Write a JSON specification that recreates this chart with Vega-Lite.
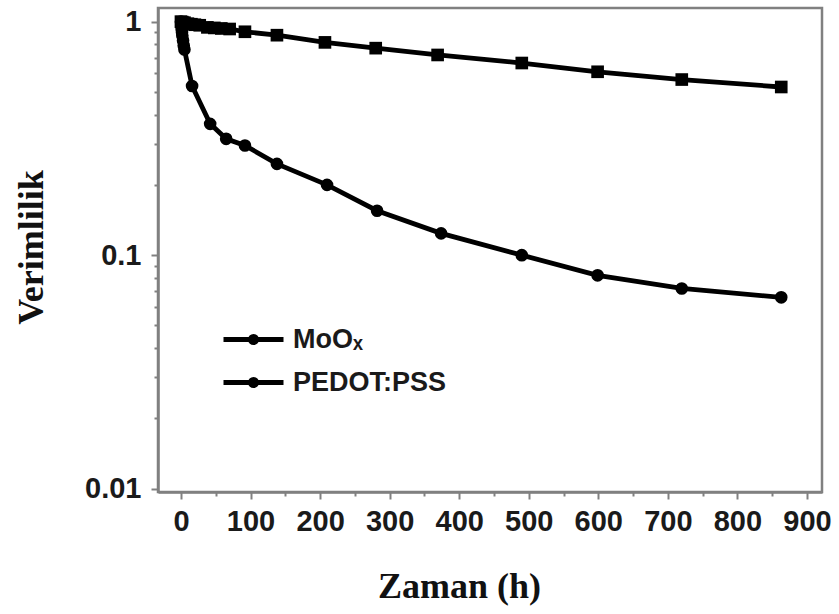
{
  "$schema": "https://vega.github.io/schema/vega-lite/v6.json",
  "width": 664,
  "height": 484,
  "autosize": "none",
  "padding": {"left": 158, "top": 8, "right": 17, "bottom": 122},
  "background": "white",
  "config": {
    "view": {"stroke": "#808080", "strokeWidth": 2.5},
    "axis": {"grid": false, "domainColor": "#808080", "domainWidth": 2.5, "tickColor": "#808080", "tickWidth": 2, "labelColor": "#1a1a1a", "titleColor": "#111"}
  },
  "data": {
    "values": [
      {"series": "MoOx", "t": 0, "eff": 1.0},
      {"series": "MoOx", "t": 2, "eff": 0.995},
      {"series": "MoOx", "t": 5, "eff": 0.99},
      {"series": "MoOx", "t": 10, "eff": 0.98},
      {"series": "MoOx", "t": 15, "eff": 0.975},
      {"series": "MoOx", "t": 20, "eff": 0.97},
      {"series": "MoOx", "t": 27, "eff": 0.965},
      {"series": "MoOx", "t": 38, "eff": 0.945},
      {"series": "MoOx", "t": 48, "eff": 0.94},
      {"series": "MoOx", "t": 58, "eff": 0.935},
      {"series": "MoOx", "t": 70, "eff": 0.93},
      {"series": "MoOx", "t": 92, "eff": 0.905},
      {"series": "MoOx", "t": 138, "eff": 0.875},
      {"series": "MoOx", "t": 207, "eff": 0.815},
      {"series": "MoOx", "t": 280, "eff": 0.77},
      {"series": "MoOx", "t": 369, "eff": 0.72},
      {"series": "MoOx", "t": 490, "eff": 0.665},
      {"series": "MoOx", "t": 599, "eff": 0.61},
      {"series": "MoOx", "t": 720, "eff": 0.565},
      {"series": "MoOx", "t": 863, "eff": 0.525},
      {"series": "PEDOT:PSS", "t": 0, "eff": 1.0},
      {"series": "PEDOT:PSS", "t": 0.5, "eff": 0.97},
      {"series": "PEDOT:PSS", "t": 1, "eff": 0.93},
      {"series": "PEDOT:PSS", "t": 1.5, "eff": 0.9},
      {"series": "PEDOT:PSS", "t": 2, "eff": 0.87},
      {"series": "PEDOT:PSS", "t": 3, "eff": 0.83},
      {"series": "PEDOT:PSS", "t": 4, "eff": 0.79},
      {"series": "PEDOT:PSS", "t": 5, "eff": 0.76},
      {"series": "PEDOT:PSS", "t": 16, "eff": 0.53},
      {"series": "PEDOT:PSS", "t": 42, "eff": 0.365},
      {"series": "PEDOT:PSS", "t": 65, "eff": 0.315},
      {"series": "PEDOT:PSS", "t": 92, "eff": 0.295},
      {"series": "PEDOT:PSS", "t": 138, "eff": 0.246},
      {"series": "PEDOT:PSS", "t": 210, "eff": 0.2},
      {"series": "PEDOT:PSS", "t": 282, "eff": 0.155},
      {"series": "PEDOT:PSS", "t": 374, "eff": 0.124},
      {"series": "PEDOT:PSS", "t": 490, "eff": 0.1},
      {"series": "PEDOT:PSS", "t": 599, "eff": 0.082},
      {"series": "PEDOT:PSS", "t": 720, "eff": 0.072},
      {"series": "PEDOT:PSS", "t": 863, "eff": 0.066}
    ]
  },
  "encoding": {
    "x": {
      "field": "t", "type": "quantitative",
      "scale": {"domain": [-33, 921.6], "nice": false, "zero": false},
      "axis": {
        "title": "Zaman (h)",
        "values": [0, 50, 100, 150, 200, 250, 300, 350, 400, 450, 500, 550, 600, 650, 700, 750, 800, 850, 900],
        "labelExpr": "datum.value % 100 == 0 ? datum.label : ''",
        "tickSize": {"condition": {"test": "datum.value % 100 == 0", "value": 7}, "value": 4},
        "labelFont": "Liberation Sans", "labelFontWeight": "bold", "labelFontSize": 29,
        "labelPadding": 8, "labelFlush": false, "labelOverlap": false,
        "titleFont": "Liberation Serif", "titleFontWeight": "bold", "titleFontSize": 36,
        "titleX": 301, "titleY": 105, "titleBaseline": "alphabetic", "titleAlign": "center", "titleAnchor": null
      }
    },
    "y": {
      "field": "eff", "type": "quantitative",
      "scale": {"type": "log", "domain": [0.00968, 1.144], "nice": false},
      "axis": {
        "title": "Verimlilik",
        "values": [0.01, 0.02, 0.03, 0.04, 0.05, 0.06, 0.07, 0.08, 0.09, 0.1, 0.2, 0.3, 0.4, 0.5, 0.6, 0.7, 0.8, 0.9, 1],
        "labelExpr": "datum.value == 1 ? '1' : datum.value == 0.1 ? '0.1' : datum.value == 0.01 ? '0.01' : ''",
        "tickSize": {"condition": {"test": "datum.value == 1 || datum.value == 0.1 || datum.value == 0.01", "value": 7}, "value": 4},
        "labelFont": "Liberation Sans", "labelFontWeight": "bold", "labelFontSize": 29,
        "labelPadding": 10, "labelOverlap": false,
        "titleFont": "Liberation Serif", "titleFontWeight": "bold", "titleFontSize": 36,
        "titleAngle": 270, "titleX": -116, "titleY": 239, "titleBaseline": "alphabetic", "titleAlign": "center", "titleAnchor": null
      }
    },
    "color": {
      "field": "series", "type": "nominal",
      "scale": {"domain": ["MoOx", "PEDOT:PSS"], "range": ["black", "black"]},
      "legend": {
        "title": null,
        "orient": "none", "legendX": 82, "legendY": 318,
        "symbolType": "M-3,0H3M-0.3,0a0.3,0.3 0 1,0 0.6,0a0.3,0.3 0 1,0 -0.6,0",
        "symbolSize": 400, "symbolStrokeWidth": 5, "symbolStrokeColor": "black", "symbolFillColor": "transparent",
        "labelExpr": "datum.label == 'MoOx' ? 'MoOₓ' : datum.label",
        "labelFont": "Liberation Sans", "labelFontWeight": "bold", "labelFontSize": 27, "labelColor": "#1a1a1a",
        "labelOffset": 26, "rowPadding": 15, "padding": 0
      }
    }
  },
  "layer": [
    {"mark": {"type": "line", "strokeWidth": 4.8, "clip": true}},
    {
      "transform": [{"filter": "datum.series == 'MoOx'"}],
      "mark": {"type": "point", "shape": "square", "filled": true, "opacity": 1, "clip": true, "size": 160}
    },
    {
      "transform": [{"filter": "datum.series == 'PEDOT:PSS'"}],
      "mark": {"type": "point", "shape": "circle", "filled": true, "opacity": 1, "clip": true, "size": 160}
    }
  ]
}
